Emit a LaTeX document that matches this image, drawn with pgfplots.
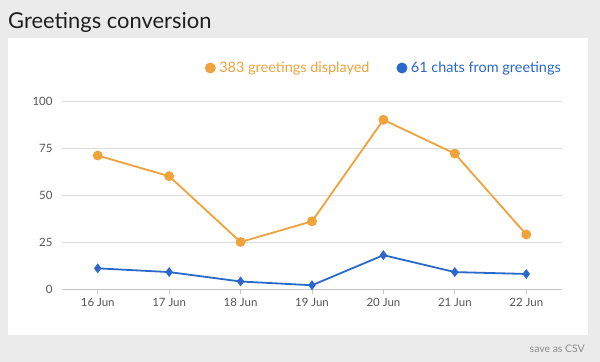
\documentclass[border=0pt]{standalone}
\usepackage{fontspec}
\setmainfont{Lato}
\usepackage{pgfplots}
\pgfplotsset{compat=1.18}
\definecolor{bg}{HTML}{EBEBEB}
\definecolor{orng}{HTML}{F0A33A}
\definecolor{blu}{HTML}{2A69C9}
\definecolor{gridc}{HTML}{DDDDDD}
\definecolor{tickc}{HTML}{555555}
\begin{document}
\begin{tikzpicture}
\fill[bg] (0bp,0bp) rectangle (600bp,-362bp);
\fill[white] (8bp,-38bp) rectangle (588bp,-335bp);
\node[anchor=base west, font=\fontsize{22}{26}\selectfont, text=black!88, inner sep=0pt] at (8bp,-28bp) {Greetings conversion};
\node[anchor=base east, font=\fontsize{10.5}{12}\selectfont, text=black!45, inner sep=0pt] at (585bp,-352bp) {save as CSV};
\begin{axis}[
  at={(62bp,-289bp)}, anchor=south west,
  scale only axis, width=500bp, height=188bp,
  xmin=-0.5, xmax=6.5, ymin=0, ymax=100,
  xtick={0,...,6},
  xticklabels={16 Jun,17 Jun,18 Jun,19 Jun,20 Jun,21 Jun,22 Jun},
  ytick={0,25,50,75,100},
  ymajorgrids, grid style={draw=gridc, line width=0.8bp},
  axis lines*=left,
  y axis line style={draw=none},
  x axis line style={draw=gridc!90!black, line width=0.8bp},
  tick align=outside, major tick length=5bp,
  xtick style={draw=gridc!90!black, line width=0.8bp},
  ytick style={draw=none},
  /pgf/number format/assume math mode=true,
  tick label style={font=\fontsize{11.5}{13}\selectfont, text=tickc},
  xticklabel style={yshift=-1bp},
  yticklabel style={xshift=-1bp},
  legend columns=2,
  legend style={at={(rel axis cs:1,1)}, anchor=east, yshift=33bp, xshift=0bp,
    draw=none, fill=none, inner sep=0pt,
    font=\fontsize{14.5}{17}\selectfont,
    /tikz/every even column/.append style={column sep=26bp},
    nodes={inner sep=1bp}},
  clip=false,
]
\addplot[color=orng, line width=1.8bp, mark=*, mark size=4bp,
  legend image code/.code={\path[draw=none,fill=none] (0bp,-1bp) rectangle (13bp,1bp);\fill[orng] (5bp,0bp) circle (4.5bp);}]
  coordinates {(0,71) (1,60) (2,25) (3,36) (4,90) (5,72) (6,29)};
\addlegendentry{\textcolor{orng}{383 greetings displayed}}
\addplot[color=blu, line width=1.8bp, mark=diamond*, mark size=3.5bp,
  legend image code/.code={\path[draw=none,fill=none] (0bp,-1bp) rectangle (13bp,1bp);\fill[blu] (5bp,0bp) circle (4.5bp);}]
  coordinates {(0,11) (1,9) (2,4) (3,2) (4,18) (5,9) (6,8)};
\addlegendentry{\textcolor{blu}{61 chats from greetings}}
\end{axis}
\end{tikzpicture}
\end{document}
